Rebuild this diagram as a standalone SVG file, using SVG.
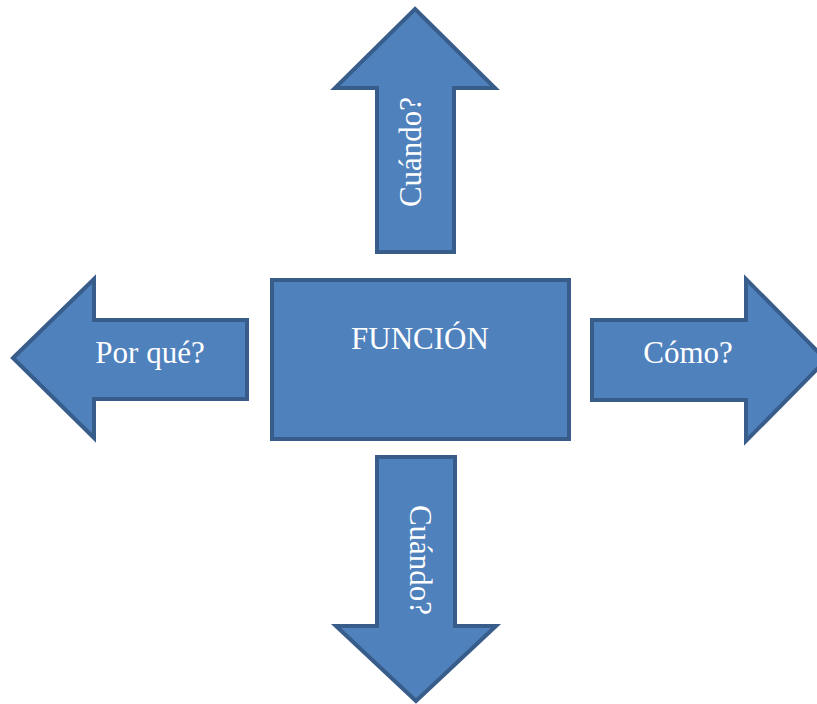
<svg xmlns="http://www.w3.org/2000/svg" width="817" height="704" viewBox="0 0 817 704">
<style>
.shape{fill:#4f81bd;stroke:#385d8a;stroke-width:4;stroke-linejoin:miter}
.lbl{font-family:"Liberation Serif","Times New Roman",serif;font-size:31px;fill:#ffffff;text-anchor:middle}
</style>
<rect width="817" height="704" fill="#ffffff"/>
<g id="connectors"/>
<g id="node-funcion">
<rect class="shape" x="272" y="280" width="297" height="159"/>
<text class="lbl" x="420" y="349">FUNCIÓN</text>
</g>
<g id="node-arriba">
<path class="shape" d="M415,9 L495,88 L454,88 L454,252 L377,252 L377,88 L335,88 Z"/>
<text class="lbl" transform="translate(421,152) rotate(-90)" x="0" y="0">Cuándo?</text>
</g>
<g id="node-izquierda">
<path class="shape" d="M13,358 L94,279 L94,320 L247,320 L247,399 L94,399 L94,438 Z"/>
<text class="lbl" x="150" y="363">Por qué?</text>
</g>
<g id="node-derecha">
<path class="shape" d="M592,320 L746,320 L746,279 L826,360 L746,441 L746,400 L592,400 Z"/>
<text class="lbl" x="688" y="363">Cómo?</text>
</g>
<g id="node-abajo">
<path class="shape" d="M377,457 L455,457 L455,626 L496,626 L416,701 L336,626 L377,626 Z"/>
<text class="lbl" transform="translate(410,560) rotate(90)" x="0" y="0">Cuándo?</text>
</g>
</svg>
